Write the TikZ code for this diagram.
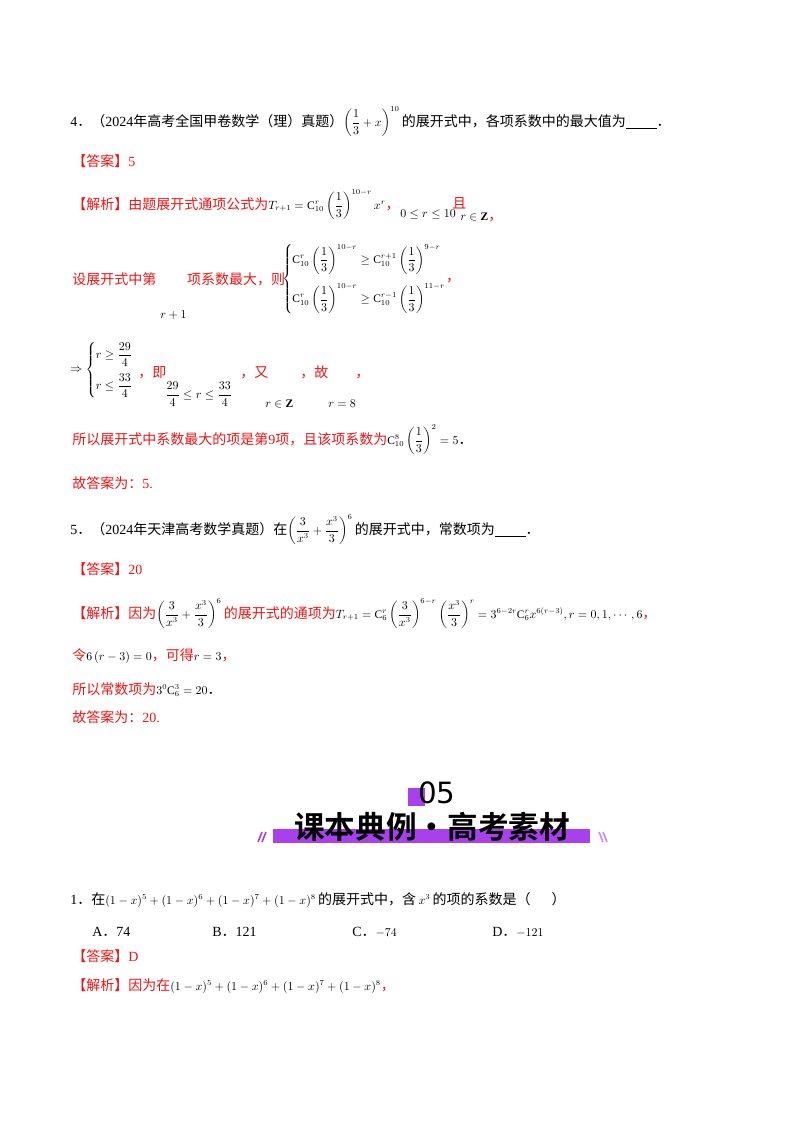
\documentclass[tikz,border=0pt]{standalone}
\usepackage{amsmath,amssymb,mathtools,graphicx}
\usepackage{fontspec}
\setmainfont{Liberation Serif}
\newfontfamily\cjk{Noto Sans CJK SC}
\newfontfamily\cjkb{Noto Sans CJK SC Bold}
\newfontfamily\lat{DejaVu Sans}
\newcommand{\C}{\mathrm{C}}
\newcommand{\mm}[1]{\scalebox{0.82}{$\displaystyle #1$}}
\newcommand{\pc}[1]{{\cjk #1}}
\definecolor{ans}{RGB}{240,20,20}
\definecolor{pur}{RGB}{168,64,238}
\begin{document}
\begin{tikzpicture}[x=0.75pt,y=-0.75pt,
  t/.style={anchor=base west,inner sep=0,font=\fontsize{10.5}{12}\selectfont},
  r/.style={t,text=ans}]
\useasboundingbox (0,0) rectangle (800,1132);
\fill[white] (0,0) rectangle (800,1132);
% Q4
\node[t] (q4) at (70,126) {4\pc{．（}2024\pc{年高考全国甲卷数学（理）真题）}\mm{\left(\frac13+x\right)^{10}}\,\pc{的展开式中，各项系数中的最大值为}\underline{\hspace{2.2em}}\pc{．}};
\node[r] (a4) at (72,166) {\pc{【答案】}5};
\node[r] (j4) at (72,209) {\pc{【解析】由题展开式通项公式为}\color{black}\mm{T_{r+1}=\C_{10}^{r}\left(\frac13\right)^{10-r}x^{r}}\color{ans}\pc{，}};
\node[t] (j4b) at (400,217) {\mm{0\le r\le 10}};
\node[r] (j4c) at (452,208) {\pc{且}};
\node[t] (j4d) at (460,220) {\mm{r\in\mathbf Z}\color{ans}\pc{，}};
\node[r] (s1) at (72,284) {\pc{设展开式中第\hspace{2.2em}项系数最大，则}};
\node[t] (s1r) at (160,318) {\mm{r+1}};
\node[t,anchor=west] (s1c) at (282,279) {\mm{\begin{dcases}\C_{10}^{r}\left(\frac13\right)^{10-r}\ge \C_{10}^{r+1}\left(\frac13\right)^{9-r}\\[1ex]\C_{10}^{r}\left(\frac13\right)^{10-r}\ge \C_{10}^{r-1}\left(\frac13\right)^{11-r}\end{dcases}}\color{ans}\pc{，}};
\node[t,anchor=west] (s2) at (70,370) {\mm{\Rightarrow\begin{dcases}r\ge\frac{29}{4}\\[0.5ex] r\le\frac{33}{4}\end{dcases}}};
\node[r] (s2a) at (138,377) {\pc{，即}};
\node[t] (s2b) at (165,398) {\mm{\frac{29}{4}\le r\le\frac{33}{4}}};
\node[r] (s2g) at (240,377) {\pc{，又}};
\node[t] (s2c) at (265,407) {\mm{r\in\mathbf Z}};
\node[r] (s2d) at (300,377) {\pc{，故}};
\node[t] (s2e) at (328,407) {\mm{r=8}};
\node[r] (s2f) at (355,377) {\pc{，}};
\node[r] (s3) at (72,444) {\pc{所以展开式中系数最大的项是第}9\pc{项，且该项系数为}\color{black}\mm{\C_{10}^{8}\left(\frac13\right)^{2}=5}\pc{．}};
\node[r] (s4) at (72,488) {\pc{故答案为：}5.};
% Q5
\node[t] (q5) at (70,534) {5\pc{．（}2024\pc{年天津高考数学真题）在}\mm{\left(\frac{3}{x^3}+\frac{x^3}{3}\right)^{6}}\,\pc{的展开式中，常数项为}\underline{\hspace{2.2em}}\pc{．}};
\node[r] (a5) at (72,574) {\pc{【答案】}20};
\node[r] (j5) at (72,618) {\pc{【解析】因为}\color{black}\mm{\left(\frac{3}{x^3}+\frac{x^3}{3}\right)^{6}}\,\color{ans}\pc{的展开式的通项为}\color{black}\mm{T_{r+1}=\C_6^{r}\left(\frac{3}{x^3}\right)^{6-r}\left(\frac{x^3}{3}\right)^{r}=3^{6-2r}\C_6^{r}x^{6(r-3)},r=0,1,\cdots,6}\color{ans}\pc{，}};
\node[r] (l5) at (72,660) {\pc{令}\color{black}\mm{6\left(r-3\right)=0}\color{ans}\pc{，可得}\color{black}\mm{r=3}\color{ans}\pc{，}};
\node[r] (m5) at (72,694) {\pc{所以常数项为}\color{black}\mm{3^{0}\C_6^{3}=20}\pc{．}};
\node[r] (n5) at (72,722) {\pc{故答案为：}20.};
% banner
\fill[pur] (408,788) rectangle (425,806);
\node[anchor=base,inner sep=0,font=\lat\fontsize{22}{24}\selectfont] (num) at (437,803) {05};
\fill[pur] (273,829) rectangle (590,843);
\node[anchor=base,inner sep=0,font=\cjkb\fontsize{23}{26}\selectfont] (ban) at (432,838) {课本典例·高考素材};
\draw[pur,line width=1.2pt] (258,842)--(262,832) (262,842)--(266,832);
\draw[pur!60,line width=1.2pt] (599,832)--(603,842) (603,832)--(607,842);
% Q1
\node[t] (q1) at (70,904) {1\pc{．在}\mm{(1-x)^5+(1-x)^6+(1-x)^7+(1-x)^8}\,\pc{的展开式中，含}\,\mm{x^3}\,\pc{的项的系数是（\hspace{1.5em}）}};
\node[t] (oa) at (92,936) {A\pc{．}74};
\node[t] (ob) at (212,936) {B\pc{．}121};
\node[t] (oc) at (352,936) {C\pc{．}\mm{-74}};
\node[t] (od) at (492,936) {D\pc{．}\mm{-121}};
\node[r] (a1) at (72,961) {\pc{【答案】}D};
\node[r] (j1) at (72,990) {\pc{【解析】因为在}\color{black}\mm{(1-x)^5+(1-x)^6+(1-x)^7+(1-x)^8}\color{ans}\pc{，}};
\end{tikzpicture}
\end{document}
